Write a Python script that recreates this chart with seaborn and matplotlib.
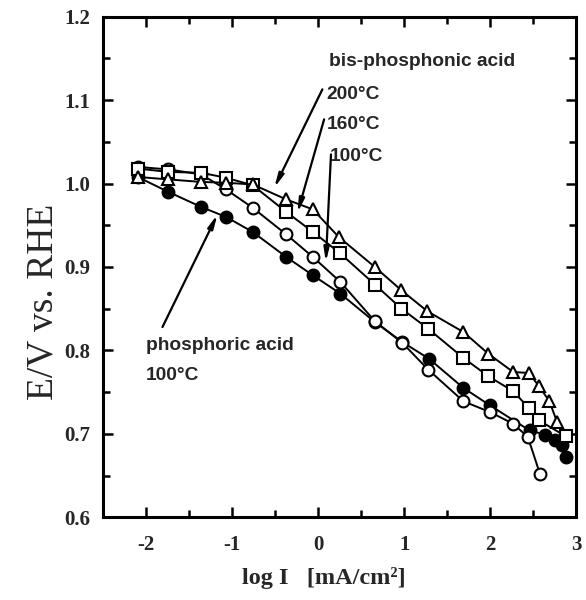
import matplotlib
matplotlib.use("Agg")
import matplotlib.pyplot as plt
from matplotlib.ticker import MultipleLocator
import numpy as np
import pandas as pd
import seaborn as sns

# bis-phosphonic acid 200 C (triangles)
x_200 = [-2.1, -1.74, -1.36, -1.07, -0.76, -0.37, -0.06, 0.24, 0.66, 0.97, 1.27, 1.69, 1.98, 2.27, 2.45, 2.57, 2.69, 2.78]
e_200 = [1.008, 1.005, 1.002, 1.001, 0.999, 0.981, 0.969, 0.936, 0.900, 0.872, 0.847, 0.822, 0.796, 0.774, 0.773, 0.757, 0.739, 0.714]

# bis-phosphonic acid 160 C (squares)
x_160 = [-2.1, -1.74, -1.36, -1.07, -0.76, -0.37, -0.06, 0.25, 0.66, 0.97, 1.28, 1.69, 1.98, 2.27, 2.45, 2.57, 2.88]
e_160 = [1.018, 1.014, 1.013, 1.007, 0.998, 0.966, 0.942, 0.917, 0.879, 0.850, 0.826, 0.791, 0.769, 0.751, 0.731, 0.716, 0.697]

# bis-phosphonic acid 100 C (open circles)
x_100 = [-2.1, -1.74, -1.36, -1.07, -0.76, -0.37, -0.06, 0.26, 0.66, 0.98, 1.28, 1.69, 2.0, 2.27, 2.44, 2.58]
e_100 = [1.020, 1.017, 1.011, 0.993, 0.971, 0.939, 0.912, 0.882, 0.835, 0.809, 0.777, 0.739, 0.726, 0.712, 0.696, 0.652]

# phosphoric acid 100 C (filled circles)
x_pa = [-2.1, -1.74, -1.36, -1.07, -0.76, -0.37, -0.06, 0.26, 0.66, 0.98, 1.29, 1.69, 2.0, 2.46, 2.64, 2.76, 2.84, 2.88]
e_pa = [1.008, 0.990, 0.972, 0.960, 0.942, 0.912, 0.890, 0.868, 0.834, 0.810, 0.790, 0.755, 0.734, 0.704, 0.699, 0.693, 0.686, 0.672]

x_ticks = [-2, -1, 0, 1, 2, 3]
y_ticks = [0.6, 0.7, 0.8, 0.9, 1.0, 1.1, 1.2]

sns.set_style("ticks")
plt.rcParams['font.family'] = ['Liberation Serif', 'DejaVu Serif']

fig = plt.figure(figsize=(5.86, 6.0), dpi=100)
ax = fig.add_axes([0.176, 0.138, 0.807, 0.834])

series = [
    (x_pa, e_pa, 'o', 'black'),
    (x_100, e_100, 'o', 'white'),
    (x_160, e_160, 's', 'white'),
    (x_200, e_200, '^', 'white'),
]
for xs, ys, mk, face in series:
    df = pd.DataFrame({'x': xs, 'y': ys})
    sns.lineplot(data=df, x='x', y='y', ax=ax, sort=False, estimator=None,
                 color='black', lw=1.4, marker=mk, markersize=8.5,
                 markerfacecolor=face, markeredgecolor='black', markeredgewidth=1.5)

ax.set_xlim(-2.5, 3.0)
ax.set_ylim(0.6, 1.2)
ax.set_xticks(x_ticks)
ax.set_xticklabels([str(t) for t in x_ticks])
ax.set_yticks(y_ticks)
ax.set_yticklabels([f"{t:.1f}" for t in y_ticks])
ax.xaxis.set_minor_locator(MultipleLocator(0.5))
ax.yaxis.set_minor_locator(MultipleLocator(0.05))
ax.tick_params(which='both', direction='in', top=True, right=True, width=1.8, color='black')
ax.tick_params(which='major', length=7)
ax.tick_params(which='minor', length=5)
ax.tick_params(axis='x', which='major', pad=13)
ax.tick_params(axis='y', which='major', pad=9)
for lab in ax.get_xticklabels() + ax.get_yticklabels():
    lab.set_fontsize(15)
    lab.set_fontweight('bold')
for sp in ax.spines.values():
    sp.set_linewidth(2.2)
    sp.set_color('black')

ax.set_xlabel("log I   [mA/cm²]", fontsize=17.5, fontweight='bold')
ax.set_ylabel("E/V vs. RHE", fontsize=27)
ax.xaxis.set_label_coords(0.467, -0.10)
ax.yaxis.set_label_coords(-0.09, 0.43)

txt = dict(fontsize=13.8, fontweight='bold', family=['Liberation Sans', 'DejaVu Sans'], va='center', ha='left')
ax.text(0.13, 1.146, "bis-phosphonic acid", **txt)
ax.text(0.10, 1.107, "200°C", **txt)
ax.text(0.10, 1.071, "160°C", **txt)
ax.text(0.13, 1.032, "100°C", **txt)
ax.text(-2.0, 0.806, "phosphoric acid", **txt)
ax.text(-2.0, 0.770, "100°C", **txt)

arrow = dict(arrowstyle='-|>,head_length=0.8,head_width=0.16', lw=1.6, color='black',
             shrinkA=0, shrinkB=0)
ax.annotate("", xy=(-0.51, 0.995), xytext=(0.05, 1.113), arrowprops=arrow)
ax.annotate("", xy=(-0.24, 0.965), xytext=(0.07, 1.077), arrowprops=arrow)
ax.annotate("", xy=(0.09, 0.906), xytext=(0.15, 1.035), arrowprops=arrow)
ax.annotate("", xy=(-1.17, 0.963), xytext=(-1.81, 0.828), arrowprops=arrow)

fig.savefig("out.png", dpi=100)
